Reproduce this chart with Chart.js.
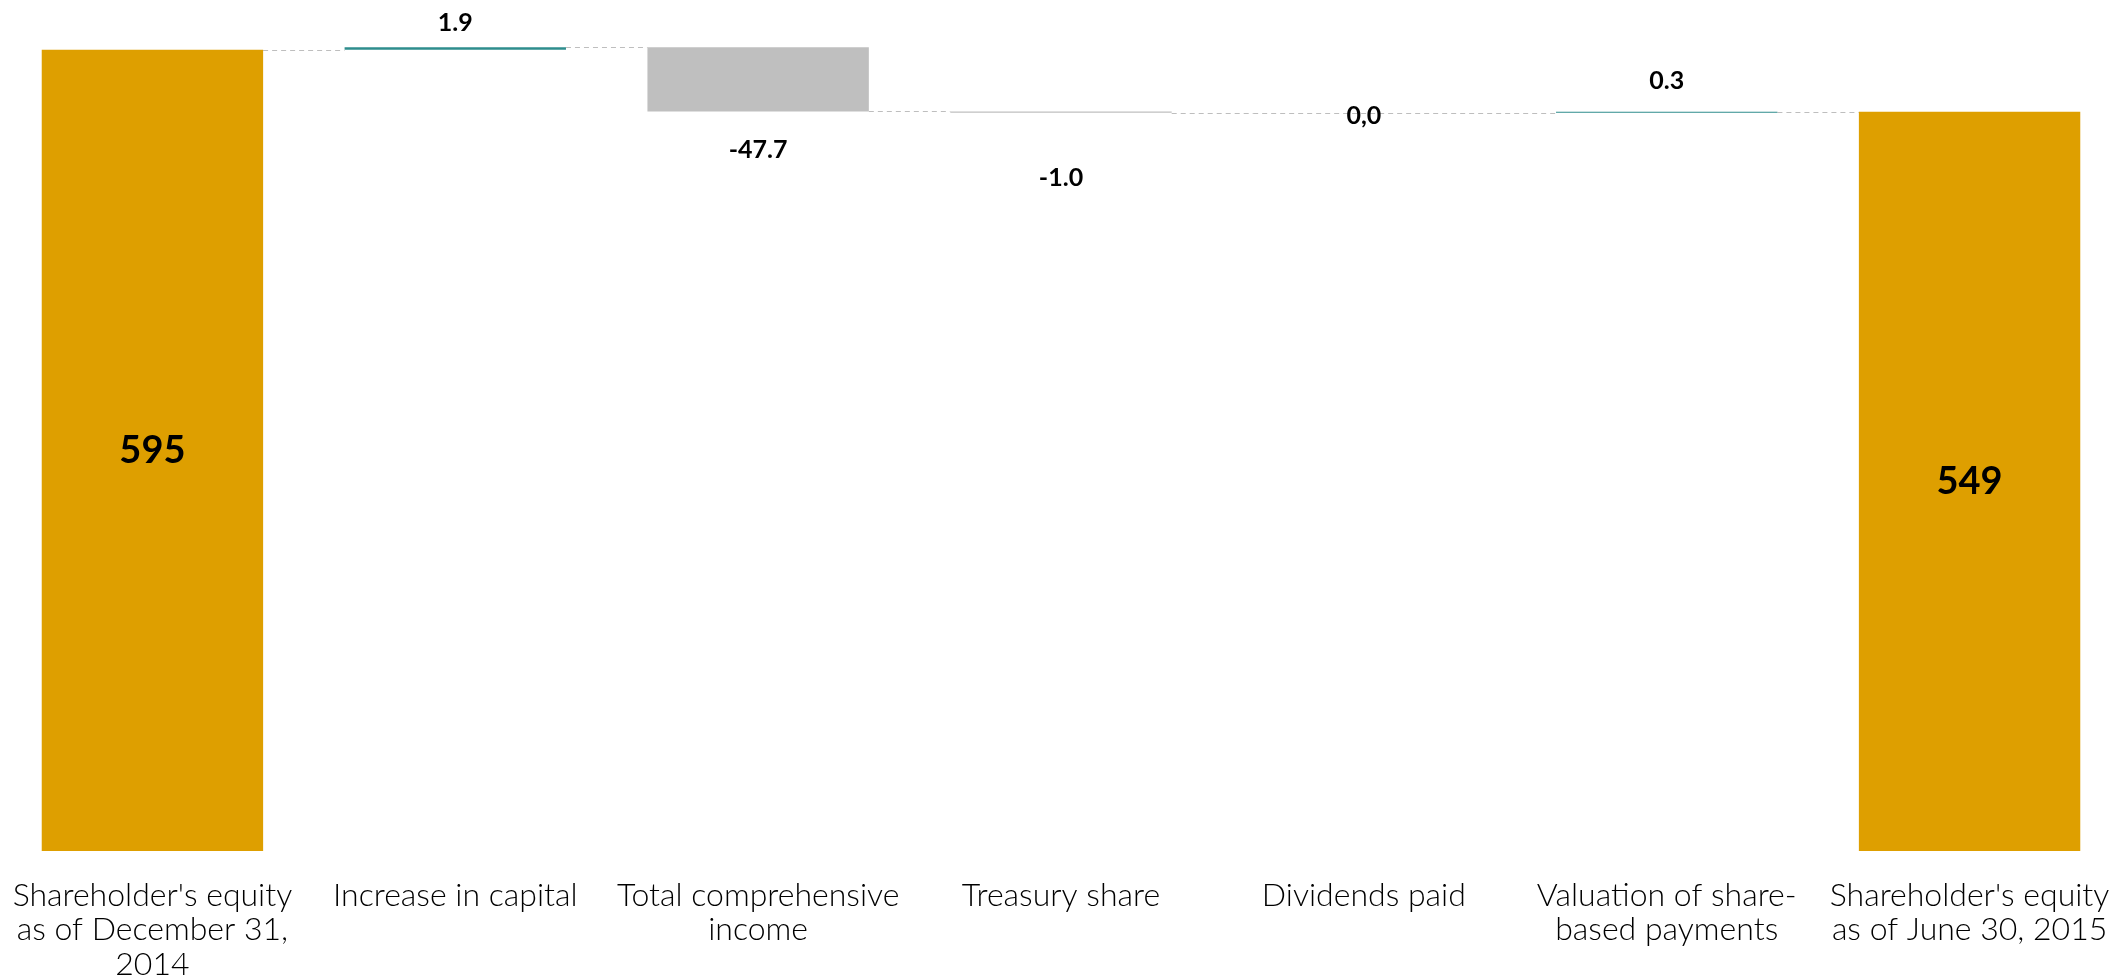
<!DOCTYPE html>
<html>
<head>
<meta charset="utf-8">
<script src="https://cdn.jsdelivr.net/npm/chart.js@4.4.1/dist/chart.umd.min.js"></script>
<style>
  html, body { margin: 0; padding: 0; background: #ffffff; }
  #wrap { width: 2121px; height: 976px; }
</style>
</head>
<body>
<div id="wrap"><canvas id="waterfall" width="2121" height="976"></canvas></div>
<script>
// Dados do gráfico (cascata do patrimônio líquido)
const categories = [
    ["Shareholder's equity", "as of December 31,", "2014"],
    ["Increase in capital"],
    ["Total comprehensive", "income"],
    ["Treasury share"],
    ["Dividends paid"],
    ["Valuation of share-", "based payments"],
    ["Shareholder's equity", "as of June 30, 2015"]
];
const values = [595, 1.9, -47.7, -1.0, 0.0, 0.3, 549];
const isTotal = [true, false, false, false, false, false, true];
const valueLabels = ['595', '1.9', '-47.7', '-1.0', '0,0', '0.3', '549'];

// Cores
const GOLD = '#DE9F00';
const TEAL = '#2E8D8D';
const GREY = '#BFBFBF';
const CONNECTOR = '#BEBEBE';

// Distância (px) entre a barra e o rótulo, como no original
const labelGap = [0, 24, 38, 65, 3, 31, 0];

// Monta as barras flutuantes a partir dos valores
let running = 0;
const ranges = values.map((v, i) => {
    if (isTotal[i]) {
        running = v;
        return [0, v];
    }
    const start = running;
    running = running + v;
    return [start, running];
});
const levels = ranges.map(r => r[1]);
const colors = values.map((v, i) => {
    if (isTotal[i]) return GOLD;
    if (v === 0) return 'rgba(0,0,0,0)';
    return v > 0 ? TEAL : GREY;
});

// Linhas tracejadas entre as barras
const connectorPlugin = {
    id: 'connectors',
    beforeDatasetsDraw(chart) {
        const ctx = chart.ctx;
        const meta = chart.getDatasetMeta(0);
        const yScale = chart.scales.y;
        ctx.save();
        ctx.strokeStyle = CONNECTOR;
        ctx.lineWidth = 1;
        ctx.setLineDash([5, 4]);
        for (let i = 0; i < meta.data.length - 1; i++) {
            const bar = meta.data[i];
            const next = meta.data[i + 1];
            const y = Math.round(yScale.getPixelForValue(levels[i])) + 0.5;
            const x1 = values[i] === 0 && !isTotal[i] ? bar.x - bar.width / 2 : bar.x + bar.width / 2;
            const x2 = next.x - next.width / 2;
            ctx.beginPath();
            ctx.moveTo(x1, y);
            ctx.lineTo(x2, y);
            ctx.stroke();
        }
        ctx.restore();
    }
};

// Rótulos de valores
const valueLabelPlugin = {
    id: 'valueLabels',
    afterDatasetsDraw(chart) {
        const ctx = chart.ctx;
        const meta = chart.getDatasetMeta(0);
        const yScale = chart.scales.y;
        ctx.save();
        ctx.fillStyle = '#000000';
        ctx.textAlign = 'center';
        ctx.textBaseline = 'middle';
        meta.data.forEach((bar, i) => {
            const top = yScale.getPixelForValue(Math.max(ranges[i][0], ranges[i][1]));
            const bottom = yScale.getPixelForValue(Math.min(ranges[i][0], ranges[i][1]));
            let y;
            if (isTotal[i]) {
                ctx.font = 'bold 38px Lato';
                y = (top + bottom) / 2;
            } else {
                ctx.font = 'bold 25px Lato';
                if (values[i] > 0) y = top - labelGap[i];
                else if (values[i] < 0) y = bottom + labelGap[i];
                else y = top + labelGap[i];
            }
            ctx.fillText(valueLabels[i], bar.x, y);
        });
        ctx.restore();
    }
};

const ctx = document.getElementById('waterfall').getContext('2d');
new Chart(ctx, {
    type: 'bar',
    data: {
        labels: categories,
        datasets: [{
            data: ranges,
            backgroundColor: colors,
            borderWidth: 0,
            minBarLength: 1,
            barPercentage: 0.731,
            categoryPercentage: 1.0
        }]
    },
    options: {
        responsive: false,
        animation: false,
        devicePixelRatio: 1,
        layout: { padding: { left: 1, right: -10, top: 0, bottom: 0 } },
        plugins: {
            legend: { display: false },
            tooltip: { enabled: false }
        },
        scales: {
            x: {
                offset: true,
                grid: { display: false, drawTicks: false },
                border: { display: false },
                ticks: {
                    color: '#000000',
                    font: { family: 'Lato', size: 32, weight: 300, lineHeight: 1.08 },
                    padding: 27,
                    maxRotation: 0,
                    autoSkip: false
                },
                afterFit(scale) {
                    // sem folga lateral extra, altura fixa para a área dos rótulos
                    scale.paddingLeft = 0;
                    scale.paddingRight = 0;
                    scale.height = 125;
                }
            },
            y: {
                display: false,
                min: 0,
                max: 632
            }
        }
    },
    plugins: [connectorPlugin, valueLabelPlugin]
});
</script>
</body>
</html>
